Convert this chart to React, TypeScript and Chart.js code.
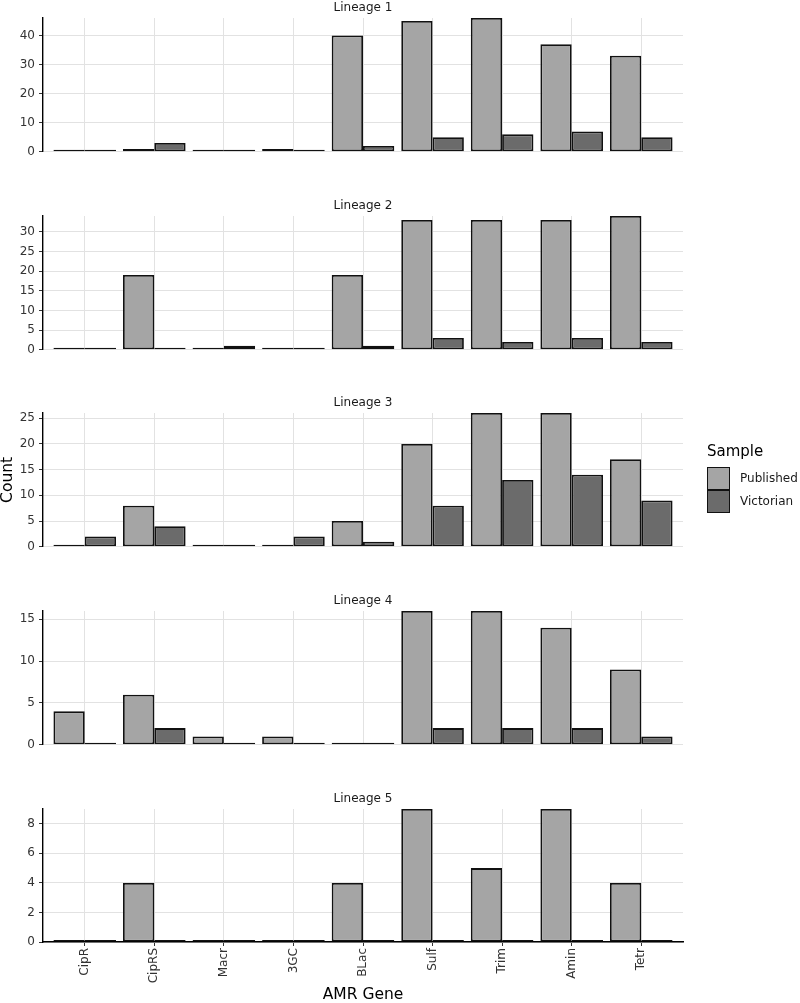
import React, { useEffect, useRef } from 'react';
import { Chart, registerables } from 'chart.js';

Chart.register(...registerables);
Chart.defaults.font.family = "'DejaVu Sans', sans-serif";

// ---- data ----
const genes = ['CipR', 'CipRS', 'Macr', '3GC', 'BLac', 'Sulf', 'Trim', 'Amin', 'Tetr'];
const lineageNames = ['Lineage 1', 'Lineage 2', 'Lineage 3', 'Lineage 4', 'Lineage 5'];
const seriesNames = ['Published', 'Victorian'];

const published1 = [0, 1, 0, 1, 40, 45, 46, 37, 33];
const victorian1 = [0, 3, 0, 0, 2, 5, 6, 7, 5];
const published2 = [0, 19, 0, 0, 19, 33, 33, 33, 34];
const victorian2 = [0, 0, 1, 0, 1, 3, 2, 3, 2];
const published3 = [0, 8, 0, 0, 5, 20, 26, 26, 17];
const victorian3 = [2, 4, 0, 2, 1, 8, 13, 14, 9];
const published4 = [4, 6, 1, 1, 0, 16, 16, 14, 9];
const victorian4 = [0, 2, 0, 0, 0, 2, 2, 2, 1];
const published5 = [0, 4, 0, 0, 4, 9, 5, 9, 4];
const victorian5 = [0, 0, 0, 0, 0, 0, 0, 0, 0];

const yTicks1 = [0, 10, 20, 30, 40];
const yTicks2 = [0, 5, 10, 15, 20, 25, 30];
const yTicks3 = [0, 5, 10, 15, 20, 25];
const yTicks4 = [0, 5, 10, 15];
const yTicks5 = [0, 2, 4, 6, 8];
const yMaxes = [46, 34, 26, 16, 9];

const publishedAll = [published1, published2, published3, published4, published5];
const victorianAll = [victorian1, victorian2, victorian3, victorian4, victorian5];
const yTicksAll = [yTicks1, yTicks2, yTicks3, yTicks4, yTicks5];

// ---- layout / style ----
const PAGE_W = 800;
const PAGE_H = 1003;
const PLOT_LEFT = 43;
const PLOT_RIGHT = 683;
const PLOT_H = 133;
const TITLE_H = 18;
const BOTTOM_GAP = 12;
const PANEL_TOPS = [18, 216, 413, 611, 809];
const PUB_COLOR = '#a5a5a5';
const VIC_COLOR = '#6b6b6b';
const EDGE = '#111111';
const GRID = '#e2e2e2';
const TICK_TEXT = '#333333';

function Panel({ idx }: { idx: number }) {
  const ref = useRef<HTMLCanvasElement>(null);
  const isBottom = idx === 4;
  const top = PANEL_TOPS[idx] - TITLE_H;
  const height = isBottom ? PAGE_H - top : TITLE_H + PLOT_H + BOTTOM_GAP;

  useEffect(() => {
    const barCommon = {
      borderColor: EDGE,
      borderWidth: 1.8,
      borderSkipped: false as const,
      minBarLength: 2,
      categoryPercentage: 0.9,
      barPercentage: 1,
    };
    const chart = new Chart(ref.current as HTMLCanvasElement, {
      type: 'bar',
      data: {
        datasets: [
          {
            label: seriesNames[0],
            data: publishedAll[idx].map((v, i) => ({ x: i, y: v })),
            backgroundColor: PUB_COLOR,
            ...barCommon,
          },
          {
            label: seriesNames[1],
            data: victorianAll[idx].map((v, i) => ({ x: i, y: v })),
            backgroundColor: VIC_COLOR,
            ...barCommon,
          },
        ],
      },
      options: {
        responsive: false,
        animation: false,
        events: [],
        layout: { padding: { left: 0, right: PAGE_W - PLOT_RIGHT, top: 0, bottom: 0 } },
        plugins: {
          legend: { display: false },
          tooltip: { enabled: false },
          title: {
            display: true,
            text: lineageNames[idx],
            fullSize: false,
            color: '#1a1a1a',
            font: { size: 12, lineHeight: 1, weight: 'normal' },
            padding: { top: 1.5, bottom: 4.5 },
          },
        },
        scales: {
          x: {
            type: 'linear',
            min: -0.6,
            max: genes.length - 1 + 0.6,
            offset: false,
            afterBuildTicks: (s: any) => {
              s.ticks = genes.map((_, i) => ({ value: i }));
            },
            afterFit: (s: any) => {
              s.height = isBottom ? 61 : 4;
            },
            ticks: {
              display: isBottom,
              autoSkip: false,
              minRotation: 90,
              maxRotation: 90,
              padding: 2,
              color: TICK_TEXT,
              font: { size: 12 },
              callback: (v: any) => genes[v as number],
            },
            grid: {
              offset: false,
              color: GRID,
              lineWidth: 1,
              drawTicks: isBottom,
              tickLength: 4,
              tickColor: TICK_TEXT,
            },
            border: { display: isBottom, color: '#000', width: 1.4 },
            title: {
              display: isBottom,
              text: 'AMR Gene',
              color: '#000',
              font: { size: 15.5, lineHeight: 1 },
              padding: 0,
            },
          },
          y: {
            type: 'linear',
            min: 0,
            max: yMaxes[idx],
            afterBuildTicks: (s: any) => {
              s.ticks = yTicksAll[idx].map((v) => ({ value: v }));
            },
            afterFit: (s: any) => {
              s.width = PLOT_LEFT;
            },
            ticks: { color: TICK_TEXT, font: { size: 12 }, padding: 4 },
            grid: { color: GRID, lineWidth: 1, drawTicks: true, tickLength: 4, tickColor: TICK_TEXT },
            border: { display: true, color: '#000', width: 1.4 },
            title: {
              display: idx === 2,
              text: 'Count',
              color: '#000',
              font: { size: 15.5, lineHeight: 1 },
              padding: 0,
            },
          },
        },
      } as any,
    });
    return () => chart.destroy();
  }, [idx]);

  return (
    <div style={{ position: 'absolute', left: 0, top, width: PAGE_W, height }}>
      <canvas ref={ref} width={PAGE_W} height={height} style={{ width: PAGE_W, height, display: 'block' }} />
    </div>
  );
}

function Legend() {
  const keyStyle = (c: string): React.CSSProperties => ({
    position: 'absolute',
    left: 0,
    width: 21,
    height: 21,
    background: c,
    border: `1.4px solid ${EDGE}`,
  });
  const labelStyle: React.CSSProperties = {
    position: 'absolute',
    left: 33,
    fontSize: 12,
    lineHeight: '23px',
    height: 23,
    color: '#1a1a1a',
    whiteSpace: 'nowrap',
  };
  return (
    <div style={{ position: 'absolute', left: 707, top: 442, width: 93, height: 80, fontFamily: "'DejaVu Sans', sans-serif" }}>
      <div style={{ position: 'absolute', left: 0, top: 0, fontSize: 15, lineHeight: '18px', color: '#000' }}>Sample</div>
      <div style={{ ...keyStyle(PUB_COLOR), top: 25 }} />
      <div style={{ ...labelStyle, top: 25 }}>{seriesNames[0]}</div>
      <div style={{ ...keyStyle(VIC_COLOR), top: 48 }} />
      <div style={{ ...labelStyle, top: 48 }}>{seriesNames[1]}</div>
    </div>
  );
}

export default function App() {
  return (
    <div
      style={{
        position: 'absolute',
        left: 0,
        top: 0,
        width: PAGE_W,
        height: PAGE_H,
        overflow: 'hidden',
        background: '#fff',
      }}
    >
      {lineageNames.map((_, i) => (
        <Panel key={i} idx={i} />
      ))}
      <Legend />
    </div>
  );
}
